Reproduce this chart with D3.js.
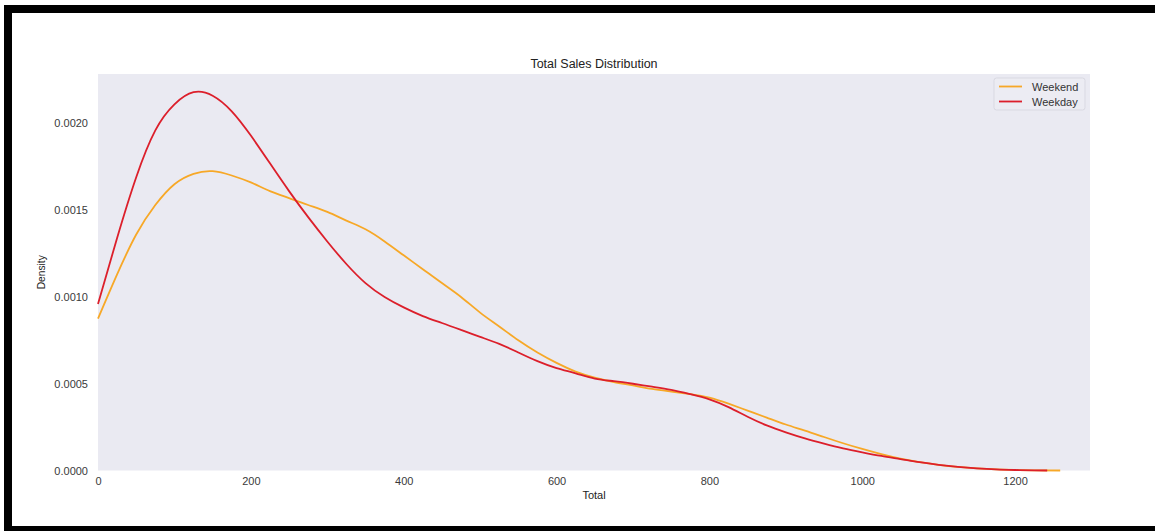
<!DOCTYPE html>
<html>
<head>
<meta charset="utf-8">
<script src="https://cdn.jsdelivr.net/npm/d3@7"></script>
<style>
  html, body { margin: 0; padding: 0; background: #fff; }
  svg { display: block; font-family: "Liberation Sans", Arial, sans-serif; }
</style>
</head>
<body>
<svg id="chart" width="1155" height="531"></svg>
<script>
// ---- data ----
const seriesNames = ["Weekend", "Weekday"];
const weekendX = [0, 25, 50, 75, 100, 125, 150, 175, 200, 225, 250, 275, 300, 325, 350, 375, 400, 425, 450, 475, 500, 525, 550, 575, 600, 625, 650, 675, 700, 725, 750, 775, 800, 825, 850, 875, 900, 925, 950, 975, 1000, 1025, 1050, 1075, 1100, 1125, 1150, 1175, 1200, 1225, 1259];
const weekendY = [0.000875, 0.00113, 0.00136, 0.00153, 0.00165, 0.00171, 0.001725, 0.00170, 0.00166, 0.00161, 0.00157, 0.00153, 0.00149, 0.00144, 0.00139, 0.00132, 0.00124, 0.00116, 0.00108, 0.00100, 0.00091, 0.00083, 0.00075, 0.00068, 0.00062, 0.00057, 0.000535, 0.00051, 0.00049, 0.00047, 0.000455, 0.00044, 0.00042, 0.000385, 0.000345, 0.000305, 0.000265, 0.00023, 0.000193, 0.000157, 0.000124, 0.000094, 0.000068, 0.000048, 0.000033, 0.000021, 0.000012, 0.000006, 0.000003, 0.000001, 0.0];
const weekdayX = [0, 25, 50, 75, 100, 125, 150, 175, 200, 225, 250, 275, 300, 325, 350, 375, 400, 425, 450, 475, 500, 525, 550, 575, 600, 625, 650, 675, 700, 725, 750, 775, 800, 825, 850, 875, 900, 925, 950, 975, 1000, 1025, 1050, 1075, 1100, 1125, 1150, 1175, 1200, 1225, 1242];
const weekdayY = [0.00096, 0.00134, 0.00169, 0.00196, 0.00211, 0.00218, 0.00216, 0.00207, 0.00193, 0.00177, 0.00161, 0.00146, 0.00132, 0.00119, 0.00108, 0.00100, 0.00094, 0.00089, 0.00085, 0.00081, 0.00077, 0.00073, 0.00068, 0.00063, 0.00059, 0.00056, 0.00053, 0.000515, 0.0005, 0.000483, 0.000465, 0.00044, 0.00041, 0.000365, 0.00031, 0.00026, 0.00022, 0.000185, 0.000155, 0.000128, 0.000105, 0.000084, 0.000066, 0.000048, 0.000033, 0.000021, 0.000012, 0.000006, 0.000003, 0.000001, 0.0];
const seriesColors = ["#f7a827", "#dc1f2b"];
const xTicks = [0, 200, 400, 600, 800, 1000, 1200];
const yTicks = [0, 0.0005, 0.0010, 0.0015, 0.0020];
const titleText = "Total Sales Distribution";
const xLabel = "Total";
const yLabel = "Density";

// ---- layout ----
const svg = d3.select("#chart");
const plot = { left: 98, right: 1090, top: 74, bottom: 470.5 };

// frame decoration
svg.append("rect").attr("x", 4).attr("y", 5).attr("width", 1151).attr("height", 8).attr("fill", "#000");
svg.append("rect").attr("x", 4).attr("y", 5).attr("width", 8).attr("height", 526).attr("fill", "#000");
svg.append("rect").attr("x", 4).attr("y", 526).attr("width", 1151).attr("height", 5).attr("fill", "#000");

const x = d3.scaleLinear().domain([0, 1298]).range([plot.left, plot.right]);
const y = d3.scaleLinear().domain([0, 0.002285]).range([plot.bottom, plot.top]);

svg.append("rect")
  .attr("x", plot.left).attr("y", plot.top)
  .attr("width", plot.right - plot.left).attr("height", plot.bottom - plot.top)
  .attr("fill", "#eaeaf2");

// axes (labels only, no tick marks)
const xAxis = d3.axisBottom(x).tickValues(xTicks).tickSize(0).tickPadding(7).tickFormat(d3.format("d"));
const gx = svg.append("g").attr("transform", `translate(0,${plot.bottom})`).call(xAxis);
gx.select(".domain").remove();
gx.selectAll("text").attr("fill", "#3a3a3a").style("font-size", "11px").style("font-family", "Liberation Sans, Arial, sans-serif");

const yAxis = d3.axisLeft(y).tickValues(yTicks).tickSize(0).tickPadding(10).tickFormat(d3.format(".4f"));
const gy = svg.append("g").attr("transform", `translate(${plot.left},0)`).call(yAxis);
gy.select(".domain").remove();
gy.selectAll("text").attr("fill", "#3a3a3a").style("font-size", "11px").style("font-family", "Liberation Sans, Arial, sans-serif");

// curves
const series = [
  { name: seriesNames[0], xs: weekendX, ys: weekendY, color: seriesColors[0] },
  { name: seriesNames[1], xs: weekdayX, ys: weekdayY, color: seriesColors[1] }
];
const line = d3.line()
  .x(d => x(d[0]))
  .y(d => y(d[1]))
  .curve(d3.curveNatural);

series.forEach(s => {
  const pts = s.xs.map((v, i) => [v, s.ys[i]]);
  svg.append("path")
    .datum(pts)
    .attr("d", line)
    .attr("fill", "none")
    .attr("stroke", s.color)
    .attr("stroke-width", 1.8)
    .attr("stroke-linejoin", "round");
});

// title and axis labels
svg.append("text").attr("x", (plot.left + plot.right) / 2).attr("y", 68)
  .attr("text-anchor", "middle").attr("fill", "#222").style("font-size", "12.5px").text(titleText);
svg.append("text").attr("x", (plot.left + plot.right) / 2).attr("y", 499)
  .attr("text-anchor", "middle").attr("fill", "#222").style("font-size", "11px").text(xLabel);
svg.append("text").attr("transform", `translate(45,${(plot.top + plot.bottom) / 2}) rotate(-90)`)
  .attr("text-anchor", "middle").attr("fill", "#222").style("font-size", "10px")
  .attr("textLength", 34).attr("lengthAdjust", "spacingAndGlyphs").text(yLabel);

// legend
const lg = svg.append("g").attr("transform", "translate(994,78)");
lg.append("rect").attr("width", 91).attr("height", 32).attr("rx", 2.5)
  .attr("fill", "#ececf3").attr("stroke", "#d9d9e2").attr("stroke-width", 1);
series.forEach((s, i) => {
  const yy = 8.5 + i * 15;
  lg.append("line").attr("x1", 5).attr("x2", 28).attr("y1", yy).attr("y2", yy)
    .attr("stroke", s.color).attr("stroke-width", 1.8);
  lg.append("text").attr("x", 38).attr("y", yy + 4).attr("fill", "#333")
    .style("font-size", "11px").text(s.name);
});
</script>
</body>
</html>
